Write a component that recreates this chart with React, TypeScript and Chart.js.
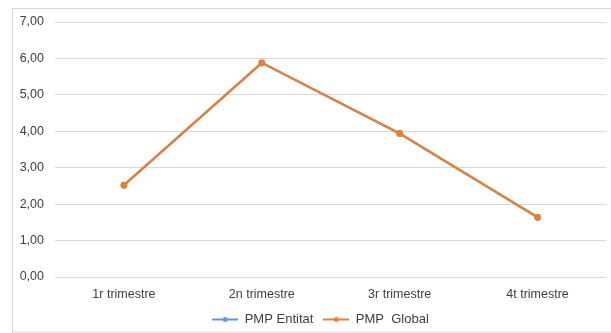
import React, { useEffect, useRef } from "react";
import { Chart, registerables } from "chart.js";

Chart.register(...registerables);

const categories = ["1r trimestre", "2n trimestre", "3r trimestre", "4t trimestre"];
const pmpEntitat = [2.52, 5.88, 3.94, 1.64];
const pmpGlobal = [2.52, 5.88, 3.94, 1.64];
const seriesNames = ["PMP Entitat", "PMP  Global"];

const BLUE = "#5b9bd5";
const ORANGE = "#ed7d31";
const GRID = "#d9d9d9";
const TEXT = "#404040";
const FONT = "'Liberation Sans', Arial, sans-serif";

function makeMarker(color: string) {
  const c = document.createElement("canvas");
  c.width = 26;
  c.height = 8;
  const ctx = c.getContext("2d")!;
  ctx.strokeStyle = color;
  ctx.lineWidth = 2;
  ctx.beginPath();
  ctx.moveTo(0, 4);
  ctx.lineTo(26, 4);
  ctx.stroke();
  ctx.fillStyle = color;
  ctx.beginPath();
  ctx.arc(13, 4, 2.5, 0, Math.PI * 2);
  ctx.fill();
  return c;
}

const framePlugin = {
  id: "frame",
  beforeDraw(chart: any) {
    const ctx = chart.ctx;
    ctx.save();
    ctx.fillStyle = "#ffffff";
    ctx.fillRect(0, 0, chart.width, chart.height);
    ctx.strokeStyle = GRID;
    ctx.lineWidth = 1;
    ctx.strokeRect(12.5, 8.5, 620, 323.5);
    ctx.restore();
  },
};

export default function App() {
  const ref = useRef<HTMLCanvasElement>(null);
  useEffect(() => {
    const markers = [makeMarker(BLUE), makeMarker(ORANGE)];
    const chart = new Chart(ref.current!, {
      type: "line",
      data: {
        labels: categories,
        datasets: [
          {
            label: seriesNames[0],
            data: pmpEntitat,
            borderColor: BLUE,
            backgroundColor: BLUE,
            borderWidth: 2.25,
            pointRadius: 2.25,
            pointHoverRadius: 2.25,
            order: 1,
          },
          {
            label: seriesNames[1],
            data: pmpGlobal,
            borderColor: ORANGE,
            backgroundColor: ORANGE,
            borderWidth: 2.25,
            pointRadius: 2.25,
            pointHoverRadius: 2.25,
            order: 0,
          },
        ],
      },
      options: {
        animation: false,
        responsive: false,
        maintainAspectRatio: false,
        layout: { padding: { top: 22, left: 30, right: 0, bottom: -3 } },
        elements: { point: { pointStyle: "circle" } },
        plugins: {
          tooltip: { enabled: false },
          legend: {
            position: "bottom",
            labels: {
              font: { family: FONT, size: 13 },
              color: TEXT,
              padding: 10,
              usePointStyle: true,
              pointStyleWidth: 26,
              generateLabels: (ch: any) =>
                ch.data.datasets.map((ds: any, i: number) => ({
                  text: ds.label,
                  pointStyle: markers[i],
                  fillStyle: ds.borderColor,
                  strokeStyle: ds.borderColor,
                  lineWidth: 0,
                  hidden: false,
                  datasetIndex: i,
                  fontColor: TEXT,
                })),
            },
          },
        },
        scales: {
          x: {
            offset: true,
            grid: { display: false, drawTicks: false },
            border: { display: false },
            ticks: {
              font: { family: FONT, size: 12.5 },
              color: TEXT,
              padding: 10,
              maxRotation: 0,
            },
            afterFit: (s: any) => {
              s.height = 26;
              s._computeLabelArea = () => undefined;
            },
          },
          y: {
            min: 0,
            max: 7,
            grid: { color: GRID, lineWidth: 1, drawTicks: false },
            border: { display: false },
            ticks: {
              stepSize: 1,
              font: { family: FONT, size: 12.5 },
              color: TEXT,
              padding: 11,
              callback: (v: any) => Number(v).toFixed(2).replace(".", ","),
            },
            afterFit: (s: any) => {
              s.width = 25;
              s._computeLabelArea = () => undefined;
            },
          },
        },
      },
      plugins: [framePlugin],
    });
    return () => chart.destroy();
  }, []);
  return (
    <div style={{ position: "absolute", left: 0, top: 0, width: 611, height: 333 }}>
      <canvas ref={ref} width={611} height={333} style={{ width: 611, height: 333, display: "block" }} />
    </div>
  );
}
